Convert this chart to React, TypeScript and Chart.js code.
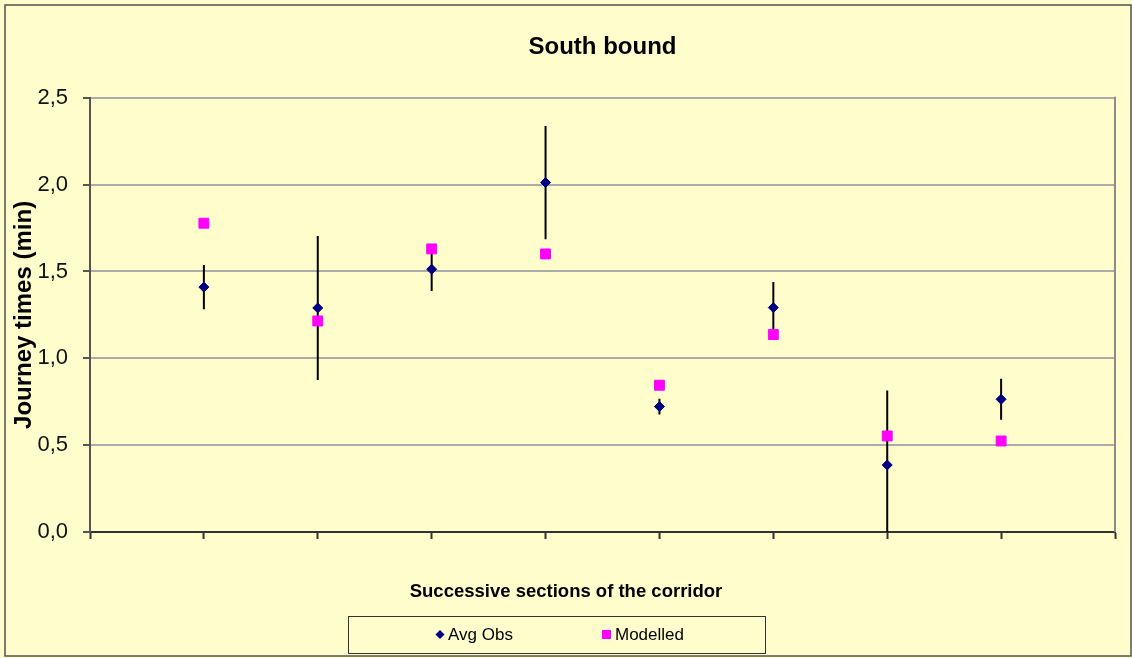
import React, { useEffect, useRef } from 'react';
import { Chart, registerables } from 'chart.js';

Chart.register(...registerables);

// ---- data ----
const sections = [1, 2, 3, 4, 5, 6, 7, 8];
const avgObs = [1.41, 1.29, 1.513, 2.012, 0.722, 1.292, 0.386, 0.764];
const obsError = [0.127, 0.415, 0.125, 0.326, 0.045, 0.148, 0.428, 0.118];
const modelled = [1.778, 1.215, 1.63, 1.601, 0.845, 1.137, 0.553, 0.524];
const yTickValues = [0, 0.5, 1.0, 1.5, 2.0, 2.5];
const seriesLabels = ['Avg Obs', 'Modelled'];
const chartTitle = 'South bound';
const xTitle = 'Successive sections of the corridor';
const yTitle = 'Journey times (min)';

const FONT = '"Liberation Sans", Arial, sans-serif';
const BG = '#FFFDCC';
const OBS_COLOR = '#000080';
const MOD_COLOR = '#FF00FF';

const errorBarsPlugin = {
  id: 'errorBars',
  beforeDatasetsDraw(chart: any) {
    const { ctx, chartArea, scales } = chart;
    const x = scales.x;
    const y = scales.y;
    ctx.save();
    ctx.beginPath();
    ctx.rect(chartArea.left, chartArea.top, chartArea.right - chartArea.left, chartArea.bottom - chartArea.top);
    ctx.clip();
    ctx.strokeStyle = '#000000';
    ctx.lineWidth = 2;
    sections.forEach((s, i) => {
      const px = x.getPixelForValue(s);
      ctx.beginPath();
      ctx.moveTo(px, y.getPixelForValue(avgObs[i] + obsError[i]));
      ctx.lineTo(px, y.getPixelForValue(avgObs[i] - obsError[i]));
      ctx.stroke();
    });
    ctx.restore();
  },
};

const framePlugin = {
  id: 'frame',
  beforeDraw(chart: any) {
    const { ctx, width, height } = chart;
    ctx.save();
    ctx.fillStyle = BG;
    ctx.fillRect(0, 0, width, height);
    ctx.restore();
  },
  afterDraw(chart: any) {
    const { ctx, chartArea, width } = chart;
    ctx.save();
    // plot area right border
    ctx.strokeStyle = '#8C8C8C';
    ctx.lineWidth = 2;
    ctx.beginPath();
    ctx.moveTo(chartArea.right, chartArea.top - 1);
    ctx.lineTo(chartArea.right, chartArea.bottom);
    ctx.stroke();
    // outer border
    ctx.strokeStyle = '#505050';
    ctx.lineWidth = 1.5;
    ctx.strokeRect(5, 5, 1126, 651);

    // x axis title (centered on the whole chart)
    ctx.fillStyle = '#000000';
    ctx.font = 'bold 18.5px ' + FONT;
    ctx.textAlign = 'center';
    ctx.textBaseline = 'middle';
    ctx.fillText(xTitle, width / 2, 592);

    // legend
    const lx = 348, ly = 616, lw = 417, lh = 37;
    ctx.strokeStyle = '#333333';
    ctx.lineWidth = 1;
    ctx.strokeRect(lx + 0.5, ly + 0.5, lw, lh);
    const cy = ly + lh / 2;
    // diamond
    ctx.fillStyle = OBS_COLOR;
    ctx.beginPath();
    ctx.moveTo(440, cy - 4.5);
    ctx.lineTo(444.5, cy);
    ctx.lineTo(440, cy + 4.5);
    ctx.lineTo(435.5, cy);
    ctx.closePath();
    ctx.fill();
    // square
    ctx.fillStyle = MOD_COLOR;
    ctx.fillRect(602, cy - 4.5, 9, 9);
    ctx.fillStyle = '#000000';
    ctx.font = '17px ' + FONT;
    ctx.textBaseline = 'middle';
    ctx.textAlign = 'left';
    ctx.fillText(chart.data.datasets[0].label, 448, cy + 1);
    ctx.fillText(chart.data.datasets[1].label, 615, cy + 1);
    ctx.restore();
  },
};

export default function App() {
  const ref = useRef<HTMLCanvasElement>(null);

  useEffect(() => {
    document.body.style.margin = '0';
    if (!ref.current) return;
    Chart.defaults.font.family = FONT;
    const chart = new Chart(ref.current, {
      type: 'scatter',
      data: {
        datasets: [
          {
            label: seriesLabels[0],
            data: sections.map((s, i) => ({ x: s, y: avgObs[i] })),
            pointStyle: 'rectRot',
            pointRadius: 5,
            pointHoverRadius: 5,
            backgroundColor: OBS_COLOR,
            borderColor: OBS_COLOR,
            borderWidth: 1,
            showLine: false,
            order: 1,
          },
          {
            label: seriesLabels[1],
            data: sections.map((s, i) => ({ x: s, y: modelled[i] })),
            pointStyle: 'rect',
            pointRadius: 7,
            pointHoverRadius: 7,
            backgroundColor: MOD_COLOR,
            borderColor: MOD_COLOR,
            borderWidth: 1,
            showLine: false,
            order: 0,
          },
        ],
      },
      options: {
        responsive: false,
        animation: false,
        devicePixelRatio: 1,
        layout: { padding: { left: 6, top: 6, right: 17, bottom: 46 } },
        plugins: {
          legend: { display: false },
          tooltip: { enabled: false },
          title: {
            display: true,
            text: chartTitle,
            fullSize: false,
            color: '#000000',
            font: { family: FONT, size: 24, weight: 'bold' },
            padding: { top: 27, bottom: 36 },
          },
        },
        scales: {
          x: {
            type: 'linear',
            min: 0,
            max: sections.length + 1,
            ticks: { display: false, stepSize: 1 },
            grid: {
              drawOnChartArea: false,
              drawTicks: true,
              tickLength: 7,
              tickColor: '#333333',
              tickWidth: 2,
            },
            border: { color: '#333333', width: 2 },
            title: { display: false, text: xTitle },
            afterFit: (scale: any) => {
              scale.height = 80;
            },
          },
          y: {
            type: 'linear',
            min: yTickValues[0],
            max: yTickValues[yTickValues.length - 1],
            afterBuildTicks: (scale: any) => {
              scale.ticks = yTickValues.map((v) => ({ value: v }));
            },
            ticks: {
              color: '#111111',
              font: { family: FONT, size: 22 },
              padding: 15,
              callback: (v: any) => Number(v).toFixed(1).replace('.', ','),
            },
            grid: {
              color: '#ABABAB',
              lineWidth: 2,
              drawTicks: true,
              tickLength: 7,
              tickColor: '#555555',
              tickWidth: 2,
            },
            border: { color: '#555555', width: 2 },
            title: {
              display: true,
              text: yTitle,
              color: '#000000',
              font: { family: FONT, size: 24, weight: 'bold' },
              padding: { top: 4, bottom: 0 },
            },
            afterFit: (scale: any) => {
              scale.width = 84;
            },
          },
        },
      },
      plugins: [errorBarsPlugin, framePlugin],
    });
    return () => chart.destroy();
  }, []);

  return (
    <div style={{ position: 'absolute', left: 0, top: 0, width: 1132, height: 658 }}>
      <canvas ref={ref} width={1132} height={658} style={{ display: 'block' }} />
    </div>
  );
}
